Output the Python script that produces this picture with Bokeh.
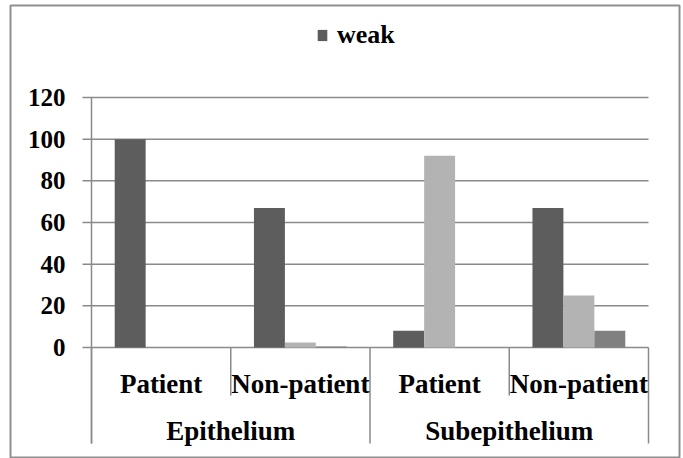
import numpy as np
from bokeh.plotting import figure
from bokeh.models import Range1d, ColumnDataSource, Legend, LegendItem
from bokeh.transform import dodge
from bokeh.core.properties import value
from bokeh.embed import file_html
from bokeh.resources import INLINE

# ---- data ----
sections = ["Epithelium", "Epithelium", "Subepithelium", "Subepithelium"]
groups = ["Patient", "Non-patient", "Patient", "Non-patient"]
weak = [100, 67, 8, 67]
moderate = [0, 2.4, 92, 25]
strong = [0, 0.5, 0, 8]
series_names = ["weak", "moderate", "strong"]
series_colors = ["#5d5d5d", "#b3b3b3", "#808080"]
legend_series = ["weak"]
y_ticks = [0, 20, 40, 60, 80, 100, 120]

# ---- layout constants (pixels) ----
W, H = 683, 458
FRAME_L, FRAME_R, FRAME_T, FRAME_B = 10, 679, 5, 457
PLOT_L, PLOT_R = 91, 648          # category area
Y0_PX, YTOP_PX = 347, 97          # pixel of 0 and of top tick
FONT = "Liberation Serif"
GRID = "#8a8a8a"
BORDER = "#8f8f8f"
LW = 1.5
BAR_W = 1 / 4.5                   # Excel gap width 150 %

n = len(groups)
ux = (PLOT_R - PLOT_L) / n                       # px per category
uy = (Y0_PX - YTOP_PX) / y_ticks[-1]             # px per value unit
x_start = (FRAME_L - PLOT_L) / ux
x_end = n + (FRAME_R - PLOT_R) / ux
y_start = -(FRAME_B - Y0_PX) / uy
y_end = y_ticks[-1] + (YTOP_PX - FRAME_T) / uy
def px_below(py):
    return -(py - Y0_PX) / uy
SUB_LABEL_Y = px_below(383)
SEC_LABEL_Y = px_below(430)
INNER_SEP_Y = px_below(395)
OUTER_SEP_Y = px_below(443)
TICK_U = 9 / ux

p = figure(width=W, height=H, x_range=Range1d(x_start, x_end), y_range=Range1d(y_start, y_end),
           output_backend="svg", toolbar_location=None, x_axis_location=None, y_axis_location=None,
           min_border_left=FRAME_L, min_border_right=W - FRAME_R,
           min_border_top=FRAME_T, min_border_bottom=H - FRAME_B)
p.grid.visible = False
p.outline_line_color = BORDER
p.outline_line_width = 2
p.background_fill_color = "white"
p.border_fill_color = "white"

centers = np.arange(n) + 0.5

# gridlines + tick marks
p.segment(x0=-TICK_U, x1=n, y0=y_ticks, y1=y_ticks, line_color=GRID, line_width=LW)
# value axis line
p.segment(x0=[0], x1=[0], y0=[OUTER_SEP_Y], y1=[y_ticks[-1]], line_color=GRID, line_width=LW)
# tick labels
p.text(x=0, y=y_ticks, text=[str(t) for t in y_ticks], x_offset=-26,
       text_font=value(FONT), text_font_style="bold", text_font_size="25px",
       text_align="right", text_baseline="middle", text_color="black")

# bars
src = ColumnDataSource(dict(c=centers, weak=weak, moderate=moderate, strong=strong))
offsets = [-BAR_W, 0, BAR_W]
rend = {}
for name, color, off in zip(series_names, series_colors, offsets):
    rend[name] = p.vbar(x=dodge("c", off), top=name, width=BAR_W, source=src,
                        fill_color=color, line_color=None)

# category separators
inner_x = [i for i in range(n) if i > 0 and sections[i] == sections[i - 1]]
outer_x = [i for i in range(n) if i == 0 or sections[i] != sections[i - 1]] + [n]
p.segment(x0=inner_x, x1=inner_x, y0=0, y1=INNER_SEP_Y, line_color=GRID, line_width=LW)
p.segment(x0=outer_x, x1=outer_x, y0=0, y1=OUTER_SEP_Y, line_color=GRID, line_width=LW)

# category labels
p.text(x=centers, y=SUB_LABEL_Y, text=groups,
       text_font=value(FONT), text_font_style="bold", text_font_size="27px",
       text_align="center", text_baseline="middle", text_color="black")
uniq_sections = list(dict.fromkeys(sections))
sec_centers = [float(np.mean([c for c, s in zip(centers, sections) if s == u])) for u in uniq_sections]
p.text(x=sec_centers, y=SEC_LABEL_Y, text=uniq_sections,
       text_font=value(FONT), text_font_style="bold", text_font_size="27px",
       text_align="center", text_baseline="middle", text_color="black")

legend = Legend(items=[LegendItem(label=nm, renderers=[rend[nm]]) for nm in legend_series],
                location=(306, 407), orientation="horizontal")
legend.label_text_font = FONT
legend.label_text_font_style = "bold"
legend.label_text_font_size = "26px"
legend.label_text_color = "black"
legend.glyph_width = 12
legend.glyph_height = 14
legend.label_height = 30
legend.label_standoff = 9
legend.padding = 0
legend.margin = 0
legend.border_line_color = None
legend.background_fill_alpha = 0
p.add_layout(legend)

open("out.html", "w").write(file_html(p, INLINE))
